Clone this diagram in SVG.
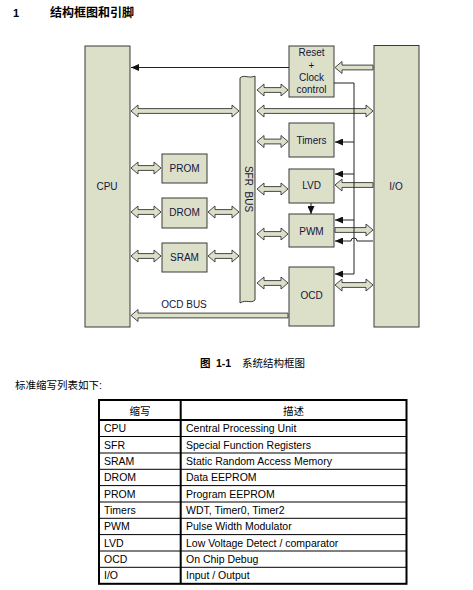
<svg xmlns="http://www.w3.org/2000/svg" width="473" height="590" viewBox="0 0 473 590">
<style>
.box{fill:#dde0c9;stroke:#3a3a3a;stroke-width:1}
.ha{fill:#dde0c9;stroke:#333;stroke-width:0.9;stroke-linejoin:miter}
.ln{fill:none;stroke:#222;stroke-width:1}
.lbl{font-family:"Liberation Sans",Arial,sans-serif;font-size:10px;fill:#14143a;text-anchor:middle}
.t{font-family:"Liberation Sans","Noto Sans CJK SC",sans-serif;font-size:10.5px;fill:#000}
.tc{text-anchor:middle}
.tb{stroke:#000;stroke-width:2;fill:none}
.tl{stroke:#000;stroke-width:1}
</style>
<defs>
<marker id="ah" markerWidth="8" markerHeight="7" refX="8" refY="3.5" orient="auto" markerUnits="userSpaceOnUse">
<path d="M0,0 L8,3.5 L0,7 z" fill="#111"/>
</marker>
</defs>
<rect width="473" height="590" fill="#fff"/>
<text x="13" y="17" font-family="'Liberation Sans','Noto Sans CJK SC',sans-serif" font-size="11" font-weight="bold">1</text>
<text x="50" y="17" font-family="'Liberation Sans','Noto Sans CJK SC',sans-serif" font-size="12" font-weight="bold">结构框图和引脚</text>

<g id="cpu"><rect class="box" x="85" y="46" width="45" height="281"/><text class="lbl" x="107" y="190">CPU</text></g>
<g id="io"><rect class="box" x="374" y="45.5" width="45" height="281.5"/><text class="lbl" x="396" y="190">I/O</text></g>
<g id="prom"><rect class="box" x="162" y="154" width="45" height="29"/><text class="lbl" x="184.5" y="172">PROM</text></g>
<g id="drom"><rect class="box" x="162" y="198" width="45" height="30"/><text class="lbl" x="184.5" y="216">DROM</text></g>
<g id="sram"><rect class="box" x="162" y="243" width="45" height="29"/><text class="lbl" x="184.5" y="260.5">SRAM</text></g>
<g id="sfr"><path class="box" d="M240 78 C244 74 249 79 255 76 L255 300 C251 304 246 299 240 303 Z"/><text class="lbl" transform="translate(245,189) rotate(90)" xml:space="preserve">SFR  BUS</text></g>
<g id="reset"><rect class="box" x="289" y="46" width="45" height="51"/>
<text class="lbl" x="311.5" y="56">Reset</text><text class="lbl" x="311.5" y="68.5">+</text><text class="lbl" x="311.5" y="81">Clock</text><text class="lbl" x="311.5" y="93.3">control</text></g>
<g id="timers"><rect class="box" x="289" y="123" width="45" height="34"/><text class="lbl" x="311.5" y="143.5">Timers</text></g>
<g id="lvd"><rect class="box" x="289" y="169" width="45" height="34"/><text class="lbl" x="311.5" y="189">LVD</text></g>
<g id="pwm"><rect class="box" x="289" y="214" width="45" height="33"/><text class="lbl" x="311.5" y="235">PWM</text></g>
<g id="ocd"><rect class="box" x="289" y="267" width="45" height="59"/><text class="lbl" x="311.5" y="299">OCD</text></g>

<g id="connectors">
<path class="ha" d="M131 111 l7 -6 v3.6 h94 v-3.6 l7 6 l-7 6 v-3.6 h-94 v3.6 z"/>
<path class="ha" d="M257 111 l7 -6 v3.6 h102 v-3.6 l7 6 l-7 6 v-3.6 h-102 v3.6 z"/>
<path class="ha" d="M131 168 l7 -6 v3.6 h16 v-3.6 l7 6 l-7 6 v-3.6 h-16 v3.6 z"/>
<path class="ha" d="M131 212 l7 -6 v3.6 h16 v-3.6 l7 6 l-7 6 v-3.6 h-16 v3.6 z"/>
<path class="ha" d="M131 256 l7 -6 v3.6 h16 v-3.6 l7 6 l-7 6 v-3.6 h-16 v3.6 z"/>
<path class="ha" d="M208 212 l7 -6 v3.6 h17 v-3.6 l7 6 l-7 6 v-3.6 h-17 v3.6 z"/>
<path class="ha" d="M208 256 l7 -6 v3.6 h17 v-3.6 l7 6 l-7 6 v-3.6 h-17 v3.6 z"/>
<path class="ha" d="M257 90 l7 -6 v3.6 h17 v-3.6 l7 6 l-7 6 v-3.6 h-17 v3.6 z"/>
<path class="ha" d="M257 141.5 l7 -6 v3.6 h17 v-3.6 l7 6 l-7 6 v-3.6 h-17 v3.6 z"/>
<path class="ha" d="M257 189 l7 -6 v3.6 h17 v-3.6 l7 6 l-7 6 v-3.6 h-17 v3.6 z"/>
<path class="ha" d="M257 234 l7 -6 v3.6 h17 v-3.6 l7 6 l-7 6 v-3.6 h-17 v3.6 z"/>
<path class="ha" d="M257 283 l7 -6 v3.6 h17 v-3.6 l7 6 l-7 6 v-3.6 h-17 v3.6 z"/>
<path class="ha" d="M335 285 l7 -6 v3.6 h24 v-3.6 l7 6 l-7 6 v-3.6 h-24 v3.6 z"/>
<path class="ha" d="M335 67.5 l7 -6 v3.6 h31 v4.8 h-31 v3.6 z"/>
<path class="ha" d="M335 185 l7 -6 v3.6 h31 v4.8 h-31 v3.6 z"/>
<path class="ha" d="M373 230 l-7 -6 v3.6 h-31 v4.8 h31 v3.6 z"/>
<path class="ha" d="M131 315.5 l7 -6 v3.6 h150 v4.8 h-150 v3.6 z"/>
<line class="ln" x1="289" y1="67.5" x2="131" y2="67.5" marker-end="url(#ah)"/>
<path class="ln" d="M334 83 H354 V274 H335" marker-end="url(#ah)"/>
<path class="ln" d="M354 142 H335" marker-end="url(#ah)"/>
<path class="ln" d="M354 174 H335" marker-end="url(#ah)"/>
<path class="ln" d="M354 220 H335" marker-end="url(#ah)"/>
<path class="ln" d="M311 203 V214" marker-end="url(#ah)"/>
<path class="ln" d="M373 241 H357 A3 3 0 0 0 351 241 H335" marker-end="url(#ah)"/>
<text class="lbl" x="184" y="308">OCD BUS</text>
</g>

<g id="caption" font-family="'Liberation Sans','Noto Sans CJK SC',sans-serif" font-size="10.5">
<text x="200" y="367" font-weight="bold">图</text>
<text x="216" y="367" font-weight="bold">1-1</text>
<text x="242" y="367">系统结构框图</text>
<text x="15" y="389">标准缩写列表如下:</text>
</g>

<g id="table">
<line class="tl" x1="99" y1="436.5" x2="406.5" y2="436.5"/>
<line class="tl" x1="99" y1="453" x2="406.5" y2="453"/>
<line class="tl" x1="99" y1="469.3" x2="406.5" y2="469.3"/>
<line class="tl" x1="99" y1="485.6" x2="406.5" y2="485.6"/>
<line class="tl" x1="99" y1="502" x2="406.5" y2="502"/>
<line class="tl" x1="99" y1="518.3" x2="406.5" y2="518.3"/>
<line class="tl" x1="99" y1="534.6" x2="406.5" y2="534.6"/>
<line class="tl" x1="99" y1="551" x2="406.5" y2="551"/>
<line class="tl" x1="99" y1="567.3" x2="406.5" y2="567.3"/>
<line class="tb" x1="99" y1="420" x2="406.5" y2="420"/>
<line class="tb" x1="180.7" y1="400" x2="180.7" y2="583.8"/>
<rect class="tb" x="99" y="400" width="307.5" height="183.8"/>
<text class="t tc" x="140" y="414.5">缩写</text>
<text class="t tc" x="293.5" y="414.5">描述</text>
<text class="t" x="104" y="432">CPU</text><text class="t" x="186" y="432">Central Processing Unit</text>
<text class="t" x="104" y="448.5">SFR</text><text class="t" x="186" y="448.5">Special Function Registers</text>
<text class="t" x="104" y="465">SRAM</text><text class="t" x="186" y="465">Static Random Access Memory</text>
<text class="t" x="104" y="481.2">DROM</text><text class="t" x="186" y="481.2">Data EEPROM</text>
<text class="t" x="104" y="497.5">PROM</text><text class="t" x="186" y="497.5">Program EEPROM</text>
<text class="t" x="104" y="514">Timers</text><text class="t" x="186" y="514">WDT, Timer0, Timer2</text>
<text class="t" x="104" y="530.3">PWM</text><text class="t" x="186" y="530.3">Pulse Width Modulator</text>
<text class="t" x="104" y="546.6">LVD</text><text class="t" x="186" y="546.6">Low Voltage Detect / comparator</text>
<text class="t" x="104" y="563">OCD</text><text class="t" x="186" y="563">On Chip Debug</text>
<text class="t" x="104" y="579.3">I/O</text><text class="t" x="186" y="579.3">Input / Output</text>
</g>
</svg>
